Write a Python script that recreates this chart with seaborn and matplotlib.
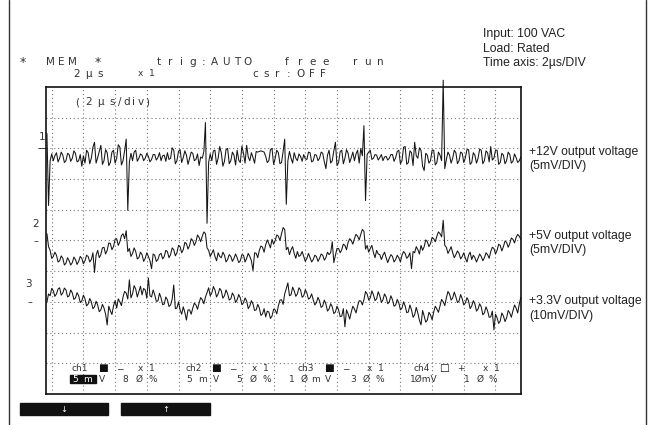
import numpy as np
import pandas as pd
import matplotlib
matplotlib.use('Agg')
import matplotlib.pyplot as plt
from matplotlib.patches import Rectangle
import seaborn as sns

# screen samples every 0.1 us (2 us/div); values in mV,
# relative to each channel's marker. "_a" = samples on the 0.2 us grid,
# "_b" = the samples in between.
t_us = -0.3 + 0.1 * np.arange(300)

ch1_a = [2.4, -2.0, -2.0, -0.7, -1.6, -1.1, -2.0, -1.0, -1.6, -0.8,
         -2.0, -2.9, -2.4, -0.7, -1.6, 1.0, -1.5, 0.5, -2.0, -0.7,
         -2.3, -0.3, -1.6, 0.2, -2.0, 1.5, -2.2, -2.0, -0.3, -1.6,
         -1.1, -1.6, -1.3, -1.8, -1.0, -1.5, -2.0, -1.1, -0.7, -1.6,
         -0.3, -2.0, -0.2, -1.5, -1.1, -1.6, -0.8, -1.8, -2.8, -1.6,
         4.2, -2.3, -2.0, -0.3, -1.6, -0.7, -2.1, 0.0, -2.0, -1.1,
         -0.3, -2.3, -0.8, 0.5, -2.0, -1.5, -0.5, -0.5, -0.5, -1.3,
         -2.0, 0.0, -1.6, -0.7, -2.3, 1.5, -2.0, -1.6, -0.7, -2.0,
         -1.3, -1.0, -1.8, -0.7, -2.0, -1.1, -1.6, -0.8, -3.3, -0.3,
         -2.0, 1.0, -2.3, -0.3, -1.6, -0.8, -1.5, -2.0, -0.3, 0.0,
         3.7, -1.0, -0.3, -1.6, -1.1, -1.5, -2.0, -1.3, -1.6, -1.0,
         -1.5, -0.3, -2.0, 0.3, -2.3, -0.7, 1.0, -1.6, -0.3, -3.6,
         -1.1, -2.0, -0.3, -2.3, -1.1, 11.1, -1.8, -1.1, -1.6, -0.7,
         -2.0, -0.8, -1.5, -0.2, -2.3, -1.1, -1.6, -0.3, -2.0, -0.7,
         0.3, -1.6, -0.3, -2.3, -1.1, -2.0, -1.0, -2.1, -1.5, -2.0]
ch1_b = [-9.3, -0.9, -1.2, -2.2, -0.6, -2.3, -0.8, -2.1, -0.4, -2.2,
         -1.0, -1.2, -0.3, -2.5, 0.2, -2.4, -0.5, -2.6, -0.2, -2.8,
         -0.6, -2.4, 0.6, -2.7, -0.4, -10.1, -0.8, -0.6, -2.1, -0.9,
         -2.0, -0.8, -2.2, -1.0, -1.9, -0.7, -1.2, -2.1, -1.8, 0.1,
         -2.5, -0.5, -2.3, -0.4, -2.6, -0.6, -2.0, -0.9, -1.4, -0.5,
         -12.2, -0.9, -0.4, -2.6, 0.3, -2.9, -0.2, -2.5, -0.6, -2.7,
         -1.9, 0.4, -2.4, -1.4, -0.7, -2.4, -0.6, -0.4, -0.6, -2.3,
         -0.2, -2.6, -0.3, -2.5, -0.5, -9.1, -0.5, -2.4, -1.6, -0.9,
         -2.1, -1.7, -0.6, -2.2, -1.0, -2.0, -0.6, -2.2, -1.1, -2.4,
         -0.4, -2.8, -0.5, -2.5, -0.2, -2.3, -0.6, -0.9, -2.4, -1.2,
         -8.5, -0.6, -1.8, -1.0, -1.9, -1.0, -1.4, -1.9, -1.0, -2.1,
         -0.5, -2.5, 0.2, -2.6, -0.4, -2.8, -1.2, 0.1, -2.9, -0.8,
         -2.4, -0.3, -2.7, -0.6, -2.0, -3.3, -0.6, -2.4, -0.3, -2.5,
         -0.6, -2.3, -0.2, -2.6, -0.7, -2.4, -0.1, -2.5, -0.4, -2.2,
         -1.9, -0.3, -2.6, -0.8, -2.5, -0.6, -2.4, -0.9, -2.3, -1.4]

ch2_a = [1.1, -1.6, -2.6, -2.4, -3.3, -2.9, -3.7, -3.3, -3.6, -3.1,
         -3.4, -2.9, -3.3, -2.6, -3.1, -5.2, -1.6, -2.3, -1.1, -1.6,
         -0.5, -1.0, 0.3, -0.2, 1.1, 1.6, -1.3, -2.1, -1.8, -2.8,
         -2.3, -2.9, -2.6, -4.6, -2.4, -3.1, -2.1, -2.6, -1.8, -2.3,
         -1.5, -2.0, -1.0, -1.5, -0.5, -0.8, 0.0, -0.2, 0.5, 0.7,
         1.1, -1.6, -2.1, -2.6, -2.0, -2.8, -2.4, -3.1, -2.6, -2.9,
         -2.8, -3.3, -2.4, -2.9, -2.6, -4.9, -2.1, -1.6, -1.1, -0.7,
         -0.5, 0.2, 0.0, 0.7, 1.1, 1.8, -1.1, -1.5, -2.1, -1.8,
         -2.4, -2.6, -2.9, -2.8, -3.1, -2.6, -2.9, -2.4, -2.8, -2.3,
         -0.2, -2.4, -1.3, -1.5, -0.8, -0.3, 0.0, 0.3, 0.7, 1.0,
         1.5, -0.8, -1.3, -2.0, -1.6, -2.3, -2.4, -2.8, -2.9, -2.6,
         -3.1, -2.8, -2.4, -2.1, -2.6, -4.6, -2.0, -1.5, -0.8, -1.0,
         -0.2, -0.5, 0.3, 0.7, 1.1, 3.3, -1.1, -1.6, -2.0, -2.3,
         -2.1, -2.6, -2.9, -2.4, -3.1, -2.8, -2.9, -2.6, -2.8, -2.3,
         -1.8, -1.3, -1.6, -0.8, -1.0, -0.3, -0.5, 0.2, 0.5, 0.7]
ch2_b = [-1.0, -2.9, -1.9, -3.5, -2.5, -4.0, -2.8, -4.0, -2.7, -3.9,
         -2.6, -3.8, -2.4, -3.5, -2.0, -2.4, -2.8, -1.2, -2.2, -0.4,
         -1.5, 0.2, -0.8, 0.8, 0.3, -1.8, -2.6, -1.2, -3.0, -1.9,
         -3.4, -2.0, -3.3, -2.2, -3.4, -2.3, -3.0, -1.6, -2.8, -1.2,
         -2.5, -0.8, -2.0, -0.3, -1.4, 0.3, -0.8, 0.9, -0.2, 1.4,
         -1.2, -2.6, -1.5, -3.3, -2.6, -1.9, -3.5, -2.3, -3.4, -2.2,
         -3.6, -2.3, -3.5, -2.1, -3.3, -2.0, -2.8, -0.9, -1.9, 0.1,
         -1.2, -0.6, 0.9, 0.0, 2.1, -1.5, -2.3, -1.0, -2.9, -2.6,
         -1.8, -3.4, -2.1, -3.5, -2.4, -3.4, -2.2, -3.2, -1.9, -2.0,
         -3.6, -1.3, -2.0, -0.6, -1.5, 0.3, -0.6, 1.0, 0.1, 1.8,
         -1.4, -1.9, -0.8, -2.8, -2.2, -3.1, -1.9, -3.6, -2.3, -3.5,
         -2.4, -3.5, -1.8, -2.9, -2.0, -1.8, -1.0, -2.2, -1.6, 0.1,
         -1.0, 0.5, -0.2, 1.4, 0.6, -0.8, -2.1, -1.0, -2.8, -1.7,
         -3.0, -2.0, -3.5, -1.9, -2.4, -3.5, -2.2, -3.3, -2.0, -2.9,
         -1.1, -2.2, -0.6, -1.7, -0.1, -1.1, 0.4, -0.4, 1.0, 0.2]

ch3_a = [0.0, 2.0, 3.6, 2.6, 4.6, 2.9, 3.9, 2.0, 2.9, 1.3,
         2.0, 0.3, 1.0, -0.7, 0.0, -1.6, -1.0, -2.6, -2.0, -7.5,
         -2.9, -1.3, -2.0, 0.0, 1.6, 2.9, 7.2, 2.6, 4.2, 3.3,
         2.3, 3.9, 7.8, 1.6, 2.3, 0.3, 1.3, -0.7, 0.7, -1.0,
         5.5, -2.0, -2.6, -1.6, -5.9, -2.6, -2.0, -1.0, -0.3, 0.7,
         1.6, 4.6, 2.9, 3.9, 2.6, 3.6, 2.0, 2.6, 1.0, 2.0,
         0.7, 1.3, -0.3, 0.3, -1.3, -0.7, -2.6, -2.0, -3.9, -4.9,
         -3.3, -4.6, -2.6, -1.3, 0.7, 2.6, 6.2, 2.3, 3.6, 2.6,
         3.9, 2.0, 2.9, 1.3, 0.7, -0.3, 0.3, -1.3, -0.7, -2.3,
         -1.6, -3.3, -2.6, -4.6, -8.1, -3.9, -3.3, -2.3, -1.3, 0.3,
         0.7, 2.6, 1.3, 2.3, 1.0, 2.0, 0.7, 1.6, 0.0, 0.7,
         -1.0, -0.3, -2.0, -1.3, -3.3, -2.6, -4.2, -3.6, -7.5, -4.6,
         -5.9, -4.2, -3.3, -2.3, -1.3, 0.0, 1.3, 2.6, 1.3, 1.6,
         0.3, 1.0, -0.3, 0.3, -1.3, -0.7, -2.3, -1.6, -3.6, -2.9,
         -4.9, -9.1, -5.2, -6.2, -4.6, -5.2, -3.6, -2.9, -2.0, -0.7]
ch3_b = [2.6, 4.4, 1.8, 4.2, 2.2, 4.5, 1.6, 3.9, 0.8, 3.0,
         -0.2, 2.2, -1.3, 1.1, -2.2, 0.2, -3.2, -0.8, -4.0, -1.4,
         -4.1, 0.4, 1.0, -1.2, 3.4, 0.9, 1.3, 5.3, 1.6, 5.1,
         4.4, 1.2, 2.0, 3.9, 0.2, 2.8, -0.9, 1.6, -1.5, 0.9,
         -2.2, 0.0, -4.0, -3.4, -2.6, -4.0, -0.4, -2.4, 1.4, -0.6,
         3.0, 2.0, 5.0, 1.6, 4.4, 1.2, 3.9, 0.6, 2.9, -0.2,
         2.4, -0.9, 1.3, -2.2, 0.4, -2.8, -0.8, -4.4, -2.2, -3.0,
         -5.4, -2.4, -3.9, 0.6, -0.8, 4.3, 2.0, 4.8, 1.8, 4.6,
         1.5, 4.0, 0.9, 2.6, -1.0, 1.5, -1.8, 0.6, -3.0, -0.6,
         -3.8, -1.4, -4.8, -2.2, -2.6, -5.6, -1.4, -3.6, 0.4, -1.0,
         3.4, 0.6, 3.6, 0.4, 3.3, -0.2, 2.6, -0.6, 2.0, -1.4,
         0.8, -2.6, 0.0, -3.5, -1.0, -5.0, -1.8, -6.0, -2.8, -6.6,
         -3.4, -5.8, -1.4, -3.4, 0.8, -1.2, 3.4, 0.6, 3.2, -0.2,
         2.4, -1.0, 1.4, -2.2, 0.4, -3.0, -0.6, -4.2, -1.6, -5.0,
         -3.0, -4.0, -7.0, -3.6, -6.4, -2.8, -5.0, -1.0, -3.6, 1.5]

channels = ['ch1', 'ch2', 'ch3']
mv_per_div = [5, 5, 10]
marker_div = [8, 5, 3]          # screen row of each channel marker
right_labels = ['+12V output voltage\n(5mV/DIV)',
                '+5V output voltage\n(5mV/DIV)',
                '+3.3V output voltage\n(10mV/DIV)']

sns.set_style('white')
plt.rcParams['font.family'] = ['DejaVu Sans']

frames = []
for name, a, b, scale, off in zip(channels, [ch1_a, ch2_a, ch3_a], [ch1_b, ch2_b, ch3_b],
                                  mv_per_div, marker_div):
    mv = np.column_stack([a, b]).ravel()
    frames.append(pd.DataFrame({'t': t_us, 'div': off + mv / scale, 'ch': name}))
df = pd.concat(frames, ignore_index=True)

fig = plt.figure(figsize=(6.54, 4.25), dpi=100)
ax = fig.add_axes([45.7 / 654, 1 - 394 / 425, 475 / 654, 307 / 425])
sns.lineplot(data=df, x='t', y='div', hue='ch', palette=['#151515'] * 3,
             estimator=None, sort=False, lw=0.75, legend=False, ax=ax)
for ln in ax.lines:
    ln.set_clip_on(False)

ax.set_xlim(-0.379, 29.59)
ax.set_ylim(0, 10)
ax.set_xticks(np.arange(0, 29, 2))
ax.set_yticks(np.arange(1, 10))
ax.tick_params(length=0, labelbottom=False, labelleft=False)
ax.grid(True, ls=(0, (1, 2.5)), color='#777777', lw=0.8)
ax.set_xlabel('')
ax.set_ylabel('')
for sp in ax.spines.values():
    sp.set_color('#111111')
    sp.set_linewidth(1.2)

# overlay in pixel space for the screen texts
ov = fig.add_axes([0, 0, 1, 1], zorder=3)
ov.set_xlim(0, 654)
ov.set_ylim(425, 0)
ov.axis('off')
ov.patch.set_alpha(0)

ov.axvline(9, color='#333333', lw=1)
ov.axvline(646, color='#333333', lw=1)

scope = dict(color='#333333', fontsize=7.5, ha='center', va='center')


def spaced(x, y, s, pitch, **kw):
    for k, ch in enumerate(s):
        if ch != ' ':
            ov.text(x + k * pitch, y, ch, **{**scope, **kw})


spaced(23, 62, '*', 10, fontsize=9)
spaced(50, 62, 'MEM', 11)
spaced(98, 62, '*', 10, fontsize=9)
spaced(159, 62, 'trig:AUTO', 11.1)
spaced(287, 62, 'free', 12.7)
spaced(355, 62, 'run', 12.5)
spaced(77, 73.5, '2µs', 11.5)
spaced(140, 73.5, 'x1', 12, fontsize=6.5)
spaced(255, 73.5, 'csr:OFF', 11.3)
spaced(77, 102, '(2µs', 11.7, fontsize=7.5)
spaced(120, 102, '/div)', 6.8, fontsize=7.5)

# channel markers
ov.text(42, 137, '1', **scope)
ov.text(36, 224, '2', **scope)
ov.text(28, 284, '3', **scope)
ov.text(42.5, 148, '—', color='#111111', fontsize=7, ha='center', va='center')
ov.text(35.5, 241, '–', color='#333333', fontsize=7, ha='center', va='center')
ov.text(30, 302, '–', color='#333333', fontsize=7, ha='center', va='center')

# channel status rows at the bottom of the screen
row1 = 368.5
row2 = 379
small = dict(fontsize=6.5)
for x0, name, sq, sign, xs in zip([72, 185, 298, 413], ['ch1', 'ch2', 'ch3', 'ch4'],
                                  ['■', '■', '■', '□'], ['−', '−', '−', '+'],
                                  [140, 254, 369, 485]):
    ov.text(x0, row1, name, **{**scope, **small, 'ha': 'left'})
    ov.text(x0 + 30.5, row1, sq, color='#111111', fontsize=7.5, ha='center', va='center')
    ov.text(x0 + 48, row1, sign, **{**scope, **small})
    spaced(xs, row1, 'x 1', 6, **small)

ov.add_patch(Rectangle((70, 374.5), 26, 8.5, color='#111111'))
spaced(75, row2, '5 m', 6.5, color='white', fontsize=6.5)
spaced(102, row2, 'V', 1, **small)
spaced(125, row2, '8 Ø %', 7, **small)
spaced(189, row2, '5 m V', 6.8, **small)
spaced(239, row2, '5 Ø %', 7, **small)
spaced(292, row2, '1 Ø m V', 6, **small)
spaced(353, row2, '3 Ø %', 6.7, **small)
ov.text(410, row2, '1ØmV', **{**scope, **small, 'ha': 'left'})
spaced(467, row2, '1 Ø %', 6.5, **small)

# soft keys
ov.add_patch(Rectangle((20, 403), 88, 12, color='#111111'))
ov.add_patch(Rectangle((121, 403), 89, 12, color='#111111'))
ov.text(64, 409, '↓', color='white', fontsize=6, ha='center', va='center')
ov.text(165.5, 409, '↑', color='white', fontsize=6, ha='center', va='center')

# annotations on the right
note = dict(color='#222222', fontsize=8.8, family='Liberation Sans', ha='left', va='center',
            linespacing=1.25)
ov.text(483, 48.5, 'Input: 100 VAC\nLoad: Rated\nTime axis: 2µs/DIV', **note)
for lab, y in zip(right_labels, [159, 243, 308.5]):
    ov.text(529, y, lab, **note)

fig.savefig('out.png', dpi=100)
